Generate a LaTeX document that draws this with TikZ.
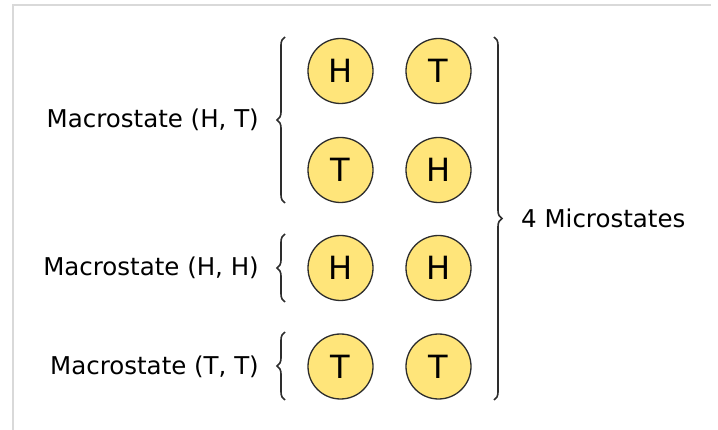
\documentclass[tikz,border=0pt]{standalone}
\usepackage{fontspec}
\setmainfont{DejaVu Sans}
\usetikzlibrary{decorations.pathreplacing}
\definecolor{coin}{RGB}{255,229,122}
\definecolor{ink}{RGB}{45,45,45}

\begin{document}
\begin{tikzpicture}[x=1pt, y=-1pt, font=\fontsize{24.5}{29}\selectfont]
\useasboundingbox (0,0) rectangle (718,430);
% frame
\draw[line width=2pt, black!15] (13,430) -- (13,5.5) -- (711,5.5);

% coordinates
\coordinate (A1) at (285,37);
\coordinate (A2) at (285,203);
\coordinate (B1) at (285,234);
\coordinate (B2) at (285,302);
\coordinate (C1) at (285,332);
\coordinate (C2) at (285,400);
\coordinate (R1) at (494,37);
\coordinate (R2) at (494,400);

% coins
\begin{scope}[every node/.style={draw=ink, circle, fill=coin, line width=1.3pt,
  minimum size=65pt, inner sep=0pt, font=\fontsize{32}{32}\selectfont}]
\node (HT1) at (340.5,71) {H};
\node (HT2) at (438.5,71) {T};
\node (TH1) at (340.5,170) {T};
\node (TH2) at (438.5,170) {H};
\node (HH1) at (340.5,268) {H};
\node (HH2) at (438.5,268) {H};
\node (TT1) at (340.5,366.5) {T};
\node (TT2) at (438.5,366.5) {T};
\end{scope}

% braces
\begin{scope}[decoration={brace, amplitude=8pt}, line width=1.6pt, ink]
\draw[decorate] (A2) -- (A1);
\draw[decorate] (B2) -- (B1);
\draw[decorate] (C2) -- (C1);
\draw[decorate] (R1) -- (R2);
\end{scope}

% labels
\begin{scope}[every node/.style={inner sep=0pt}]
\node[anchor=east] (mHT) at (259,120) {Macrostate (H, T)};
\node[anchor=east] (mHH) at (259,268) {Macrostate (H, H)};
\node[anchor=east] (mTT) at (259,366.5) {Macrostate (T, T)};
\node[anchor=west] (micro) at (521,218.5) {4 Microstates};
\end{scope}

\end{tikzpicture}
\end{document}
